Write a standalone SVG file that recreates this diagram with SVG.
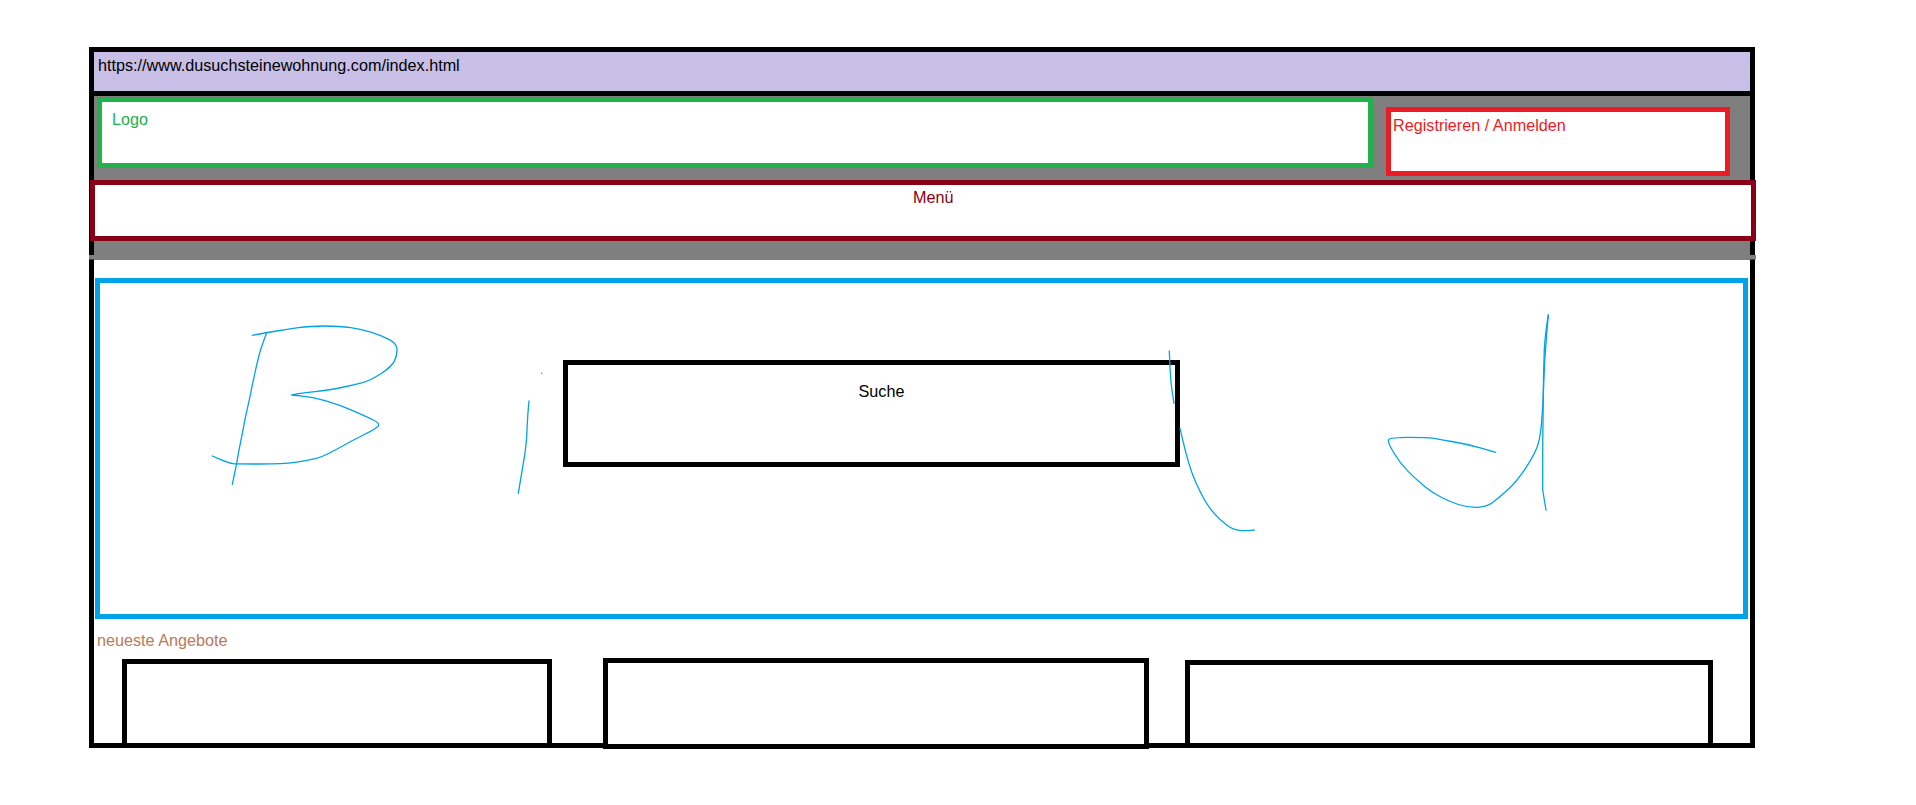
<svg xmlns="http://www.w3.org/2000/svg" width="1916" height="805" viewBox="0 0 1916 805">
  <style>
    .box { fill: #ffffff; stroke-width: 5; }
    .txt { font-family: "Liberation Sans", Arial, sans-serif; font-size: 16.2px; }
    .ink { fill: none; stroke: #00a2e8; stroke-width: 1.3; stroke-linecap: round; stroke-linejoin: round; }
  </style>

  <rect width="1916" height="805" fill="#ffffff"/>

  <!-- browser frame -->
  <g id="browser">
    <rect x="94" y="52" width="1656" height="39" fill="#c8bfe7"/>
    <rect x="94" y="91" width="1656" height="5" fill="#000000"/>
    <rect x="94" y="96" width="1656" height="164" fill="#7f7f7f"/>
    <rect x="91.5" y="49.5" width="1661" height="696" fill="none" stroke="#000000" stroke-width="5"/>
    <rect x="89" y="255" width="1667" height="4.5" fill="#7f7f7f"/>
    <text class="txt" x="98" y="70.7" fill="#000000">https://www.dusuchsteinewohnung.com/index.html</text>
  </g>

  <!-- header -->
  <g id="logo">
    <rect class="box" x="99.5" y="99.5" width="1271" height="66" stroke="#22b14c"/>
    <text class="txt" x="112" y="125" fill="#22b14c">Logo</text>
  </g>
  <g id="login">
    <rect class="box" x="1388.5" y="109.5" width="339" height="64" stroke="#ed1c24"/>
    <text class="txt" x="1393" y="130.7" fill="#ed1c24">Registrieren / Anmelden</text>
  </g>
  <g id="menu">
    <rect class="box" x="92.5" y="182.5" width="1661" height="56" stroke="#880015"/>
    <text class="txt" x="913" y="202.7" fill="#880015">Menü</text>
  </g>

  <!-- hero image with search -->
  <g id="hero">
    <rect class="box" x="97.5" y="280.5" width="1648" height="336" stroke="#00a2e8"/>
  </g>
  <g id="search">
    <rect class="box" x="565.5" y="362.5" width="612" height="102" stroke="#000000"/>
    <text class="txt" x="858.5" y="396.7" fill="#000000">Suche</text>
  </g>

  <!-- handwritten "Bild" -->
  <g id="scribble">
    <path class="ink" d="M252.3,335.3 L259.5,334 Q266.7,332.7 276.7,331 Q286.7,329.3 298.35,327.65 Q310,326 325,326 Q340,326 350.85,327.65 Q361.7,329.3 370.85,332.15 Q380,335 388.35,339.15 Q396.7,343.3 397,349.15 Q397.3,355 394.5,360.85 Q391.7,366.7 380.85,373.7 Q370,380.7 361.65,382.85 Q353.3,385 341.65,387.5 Q330,390 315,391.65 Q300,393.3 295.85,394.15 L291.7,395 L302.5,396.15 Q313.3,397.3 326.65,401.15 Q340,405 353.35,410.85 Q366.7,416.7 373.35,420 Q380,423.3 378.35,425.8 Q376.7,428.3 363.35,435 Q350,441.7 336.65,449.2 Q323.3,456.7 315,458.7 Q306.7,460.7 295,462.35 Q283.3,464 260,464 Q236.7,464 233,463.65 Q229.3,463.3 220.8,459.65 L212.3,456"/>
    <path class="ink" d="M266.7,332.7 Q262,345 260,351.7 Q254,375 250,396.7 Q245,418 241.7,436.7 Q238.5,452 236.7,463.3 L232.3,484.3"/>
    <path class="ink" d="M529,401 Q527.5,415 526.7,436.7 Q525.5,452 523.3,463.3 L518.3,493.3"/>
    <circle cx="541.7" cy="373.3" r="0.8" fill="#00a2e8"/>
    <path class="ink" d="M1169.3,351 L1170,366.7 Q1170.7,380 1171.7,388.3 L1174,403.3"/>
    <path class="ink" d="M1180,428.3 L1182.5,439.15 Q1185,450 1188.35,461.65 Q1191.7,473.3 1195.85,482.5 Q1200,491.7 1204.15,499.2 Q1208.3,506.7 1214.15,513.35 Q1220,520 1226.65,525 Q1233.3,530 1240,530.35 Q1246.7,530.7 1250.5,530.35 L1254.3,530"/>
    <path class="ink" d="M1495.7,452.3 L1481.2,448.15 Q1466.7,444 1451.7,441.5 Q1436.7,439 1432.5,438.15 Q1428.3,437.3 1409.15,437.3 Q1390,437.3 1388.65,439.5 Q1387.3,441.7 1393.65,452.5 Q1400,463.3 1408.35,471.65 Q1416.7,480 1425,486.65 Q1433.3,493.3 1441.65,497.5 Q1450,501.7 1458.35,504.5 Q1466.7,507.3 1476.7,507.3 Q1486.7,507.3 1493.35,502 Q1500,496.7 1508.35,489.2 Q1516.7,481.7 1525,469.2 Q1533.3,456.7 1536.65,448.35 Q1540,440 1541.35,425 Q1542.7,410 1543.5,388.35 Q1544.3,366.7 1545.5,350 Q1546.7,333.3 1547.5,324.15 L1548.3,315"/>
    <path class="ink" d="M1548.3,315 Q1545,335 1544.3,350 Q1543.3,375 1543.3,400 Q1542.7,440 1542.7,463.3 Q1542.7,480 1542.7,490 L1546,510"/>
  </g>

  <!-- latest offers -->
  <g id="offers">
    <text class="txt" x="97" y="645.7" fill="#b97a57">neueste Angebote</text>
  </g>
  <g id="offer-1">
    <rect class="box" x="124.5" y="661.5" width="425" height="84" stroke="#000000"/>
  </g>
  <g id="offer-2">
    <rect class="box" x="605.5" y="660.5" width="541" height="86" stroke="#000000"/>
  </g>
  <g id="offer-3">
    <rect class="box" x="1187.5" y="662.5" width="523" height="83" stroke="#000000"/>
  </g>
</svg>
